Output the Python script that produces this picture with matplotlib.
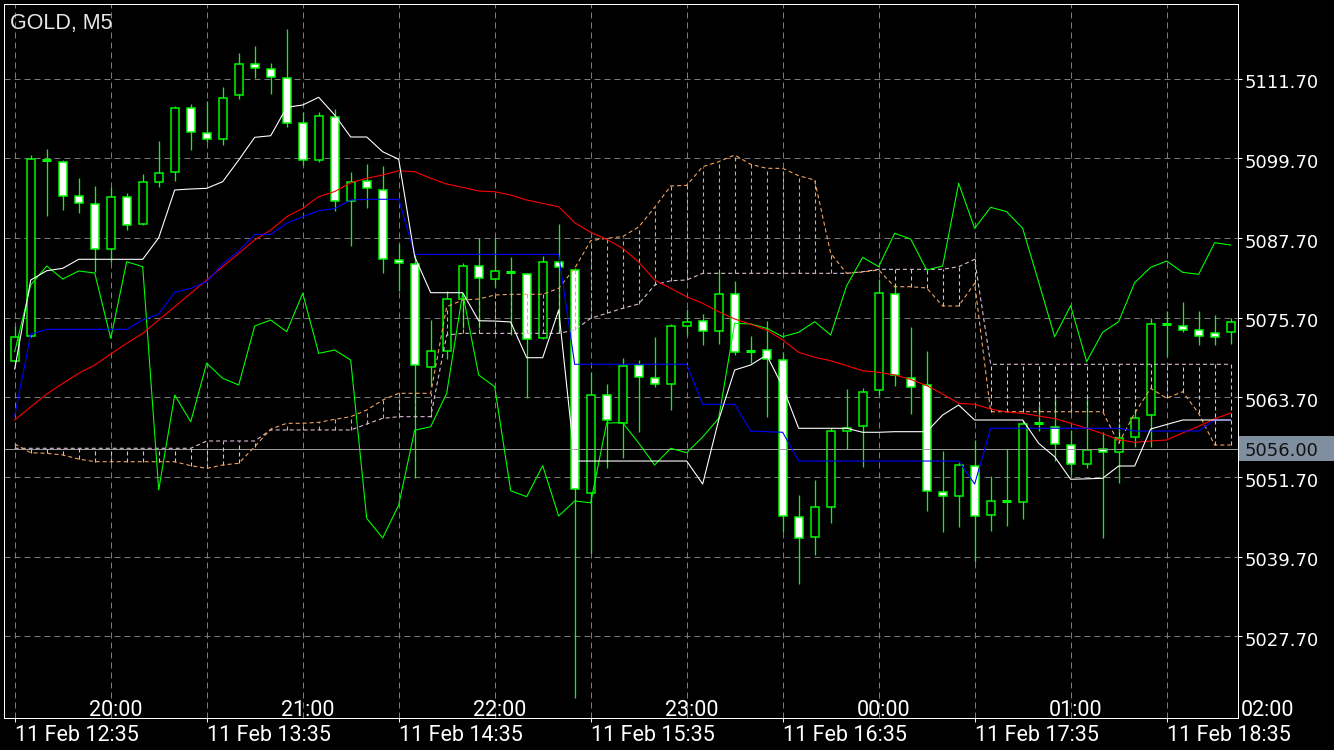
import numpy as np
import matplotlib
matplotlib.use("Agg")
import matplotlib.pyplot as plt
from matplotlib.patches import Rectangle
from matplotlib.transforms import blended_transform_factory, offset_copy

plt.rcParams['lines.scale_dashes'] = False

# ---------------- data ----------------
title = "GOLD, M5"
bid_price = 5056.00

opens = [5069.18, 5073.00, 5099.41, 5099.11, 5093.99, 5092.83, 5086.01, 5093.84, 5089.77, 5096.20,
         5097.61, 5107.24, 5103.48, 5102.57, 5109.20, 5113.87, 5113.11, 5111.76, 5104.98, 5099.41,
         5105.98, 5093.23, 5096.25, 5094.89, 5084.35, 5083.75, 5068.28, 5070.65, 5078.57, 5083.45,
         5081.49, 5082.54, 5082.24, 5072.60, 5084.05, 5082.84, 5049.38, 5064.06, 5059.92, 5068.54,
         5066.58, 5065.67, 5074.41, 5075.25, 5073.66, 5079.27, 5070.73, 5070.79, 5069.33, 5045.65,
         5042.63, 5047.24, 5058.69, 5059.35, 5064.77, 5079.23, 5066.70, 5065.52, 5049.41, 5048.81,
         5053.42, 5046.04, 5048.05, 5047.90, 5059.80, 5059.29, 5056.58, 5053.67, 5055.98, 5055.48,
         5057.78, 5061.04, 5074.77, 5074.49, 5073.84, 5073.33, 5073.48]
highs = [5074.46, 5100.21, 5101.11, 5099.41, 5096.79, 5095.58, 5095.43, 5094.49, 5097.39, 5102.32,
         5107.59, 5107.84, 5108.34, 5110.40, 5115.61, 5116.67, 5114.11, 5119.18, 5106.64, 5106.64,
         5107.14, 5097.65, 5098.85, 5098.60, 5086.85, 5085.15, 5075.36, 5079.73, 5083.99, 5087.66,
         5087.71, 5084.89, 5082.50, 5084.95, 5089.81, 5083.20, 5067.57, 5065.72, 5069.68, 5069.33,
         5072.80, 5074.76, 5077.02, 5076.26, 5082.54, 5081.23, 5072.95, 5075.21, 5070.58, 5049.00,
         5051.26, 5059.10, 5064.97, 5065.12, 5081.49, 5080.78, 5074.26, 5070.69, 5055.68, 5054.02,
         5057.29, 5051.82, 5055.93, 5060.30, 5062.56, 5063.72, 5058.79, 5063.81, 5058.54, 5059.80,
         5061.80, 5075.63, 5076.71, 5078.14, 5076.71, 5076.13, 5075.63]
lows = [5069.00, 5072.80, 5091.07, 5091.92, 5091.43, 5082.59, 5084.09, 5088.91, 5089.60, 5095.43,
        5096.30, 5101.00, 5102.20, 5101.71, 5108.60, 5111.85, 5109.44, 5104.47, 5098.66, 5099.20,
        5091.82, 5086.55, 5092.27, 5082.48, 5079.77, 5051.52, 5065.46, 5069.50, 5074.11, 5074.10,
        5080.37, 5073.10, 5063.56, 5072.50, 5073.40, 5018.39, 5040.22, 5053.02, 5054.65, 5058.54,
        5065.31, 5061.80, 5073.10, 5071.55, 5071.74, 5070.10, 5068.84, 5060.79, 5043.48, 5035.55,
        5040.01, 5044.74, 5055.89, 5053.27, 5064.06, 5065.46, 5061.16, 5046.64, 5043.39, 5044.14,
        5038.87, 5043.63, 5044.38, 5045.34, 5058.69, 5054.17, 5052.02, 5053.02, 5042.48, 5050.76,
        5056.28, 5056.23, 5069.88, 5073.48, 5071.53, 5071.53, 5071.82]
closes = [5072.80, 5099.56, 5099.41, 5093.99, 5092.93, 5086.01, 5093.84, 5089.62, 5096.10, 5097.46,
          5107.24, 5103.63, 5102.57, 5108.75, 5113.87, 5113.26, 5111.91, 5105.03, 5099.41, 5106.04,
          5093.23, 5096.19, 5095.19, 5084.50, 5083.90, 5068.54, 5070.65, 5078.48, 5083.45, 5081.64,
          5082.69, 5082.54, 5072.50, 5084.05, 5083.34, 5049.86, 5064.03, 5060.25, 5068.48, 5066.73,
          5065.67, 5074.41, 5075.10, 5073.70, 5079.27, 5070.49, 5070.73, 5069.49, 5045.84, 5042.48,
          5047.24, 5058.69, 5059.14, 5064.47, 5079.47, 5067.03, 5065.22, 5049.60, 5048.81, 5053.48,
          5045.84, 5048.05, 5048.05, 5059.65, 5059.80, 5056.68, 5053.63, 5055.83, 5055.48, 5057.63,
          5060.64, 5074.77, 5074.77, 5073.91, 5072.90, 5072.83, 5075.00]

line_white = [5067.98, 5081.38, 5082.78, 5083.14, 5084.50, 5084.50, 5084.50, 5084.50, 5084.50, 5087.75,
              5094.94, 5095.09, 5095.19, 5096.19, 5099.45, 5102.87, 5103.11, 5107.39, 5107.74, 5108.90,
              5106.23, 5102.92, 5102.92, 5100.70, 5099.56, 5084.89, 5079.47, 5079.47, 5079.47, 5075.25,
              5075.20, 5075.06, 5069.68, 5069.68, 5076.87, 5054.12, 5054.12, 5054.12, 5054.12, 5054.12,
              5054.12, 5054.12, 5054.12, 5050.66, 5060.30, 5067.83, 5068.58, 5070.09, 5065.31, 5059.05,
              5059.05, 5059.05, 5059.05, 5058.45, 5058.45, 5058.54, 5058.54, 5058.54, 5061.05, 5062.56,
              5060.30, 5060.30, 5060.30, 5060.30, 5056.79, 5054.77, 5051.37, 5051.44, 5051.52, 5053.37,
              5053.37, 5058.94, 5059.62, 5060.30, 5060.30, 5060.30, 5060.30]
line_red = [5060.30, 5062.26, 5064.21, 5065.80, 5067.33, 5068.58, 5070.24, 5071.85, 5073.35, 5075.36,
            5077.36, 5079.38, 5081.38, 5083.39, 5085.40, 5087.41, 5088.91, 5090.92, 5092.18, 5093.93,
            5094.71, 5096.04, 5096.70, 5097.20, 5097.84, 5097.69, 5096.70, 5095.84, 5095.34, 5094.79,
            5094.68, 5094.18, 5093.43, 5092.93, 5092.42, 5090.01, 5088.57, 5087.51, 5086.16, 5084.09,
            5081.38, 5080.13, 5078.87, 5077.87, 5076.61, 5075.51, 5074.71, 5073.85, 5072.35, 5070.49,
            5069.74, 5069.23, 5068.48, 5067.72, 5067.48, 5067.08, 5066.40, 5065.49, 5064.21, 5062.81,
            5062.66, 5061.95, 5061.50, 5061.31, 5060.90, 5060.52, 5059.80, 5059.05, 5058.25, 5057.33,
            5056.94, 5057.14, 5057.29, 5058.34, 5059.35, 5060.48, 5061.35]
line_blue = [5060.90, 5073.20, 5073.96, 5073.96, 5073.96, 5073.96, 5073.96, 5073.96, 5075.36, 5076.26,
             5079.53, 5080.13, 5081.13, 5083.79, 5085.75, 5088.26, 5088.26, 5089.92, 5090.92, 5091.82,
             5092.15, 5093.43, 5093.54, 5093.54, 5093.54, 5085.25, 5085.25, 5085.25, 5085.25, 5085.25,
             5085.25, 5085.25, 5085.25, 5085.25, 5085.25, 5068.69, 5068.69, 5068.69, 5068.69, 5068.69,
             5068.69, 5068.69, 5068.69, 5062.66, 5062.66, 5062.66, 5058.64, 5058.54, 5058.45, 5054.12,
             5054.12, 5054.12, 5054.12, 5054.12, 5054.12, 5054.12, 5054.12, 5054.12, 5054.12, 5054.12,
             5050.66, 5059.05, 5059.05, 5059.05, 5059.05, 5059.05, 5059.05, 5059.05, 5059.05, 5059.05,
             5058.64, 5058.64, 5058.64, 5058.64, 5058.64, 5060.30, 5060.30]
line_green = [5070.58, 5080.63, 5083.49, 5081.53, 5082.74, 5082.44, 5072.60, 5084.14, 5083.39, 5049.76,
              5064.06, 5060.04, 5068.84, 5066.58, 5065.57, 5074.45, 5075.36, 5073.60, 5079.38, 5070.34,
              5070.84, 5069.33, 5045.49, 5042.53, 5047.50, 5058.75, 5059.29, 5064.32, 5079.38, 5067.08,
              5065.31, 5049.65, 5048.75, 5053.42, 5045.84, 5048.10, 5047.84, 5059.85, 5059.89, 5056.83,
              5053.52, 5056.04, 5055.37, 5057.74, 5060.55, 5074.86, 5074.76, 5074.11, 5072.85, 5073.51,
              5075.11, 5073.10, 5080.52, 5084.80, 5083.39, 5088.41, 5087.56, 5082.89, 5083.49, 5095.95,
              5089.17, 5092.33, 5091.67, 5089.17, 5081.08, 5072.84, 5077.51, 5069.08, 5073.51, 5075.11,
              5080.98, 5083.29, 5084.24, 5082.54, 5082.24, 5087.00, 5086.65]
span_a = [5056.68, 5055.37, 5055.28, 5055.03, 5054.42, 5054.02, 5054.02, 5054.02, 5054.02, 5054.02,
          5054.02, 5053.42, 5053.02, 5053.52, 5053.78, 5056.28, 5058.94, 5059.80, 5059.80, 5059.95,
          5060.40, 5060.80, 5061.80, 5063.31, 5064.32, 5064.32, 5064.32, 5077.36, 5078.37, 5078.52,
          5079.12, 5079.23, 5079.23, 5079.23, 5080.13, 5083.14, 5087.30, 5087.66, 5087.93, 5089.37,
          5092.33, 5095.54, 5095.64, 5098.45, 5099.20, 5100.21, 5098.81, 5098.20, 5098.20, 5097.09,
          5096.44, 5085.40, 5082.39, 5082.59, 5082.89, 5080.37, 5080.37, 5080.18, 5077.47, 5077.47,
          5080.89, 5061.55, 5061.55, 5061.55, 5061.55, 5061.55, 5061.55, 5061.55, 5061.55, 5056.79,
          5061.31, 5065.07, 5063.57, 5064.56, 5061.31, 5056.53, 5056.53]
span_b = [5056.04, 5056.04, 5056.04, 5056.04, 5056.04, 5056.04, 5056.04, 5056.04, 5056.04, 5056.04,
          5056.04, 5056.04, 5057.14, 5057.14, 5057.14, 5057.14, 5058.80, 5058.80, 5058.80, 5058.80,
          5058.80, 5058.80, 5059.69, 5060.55, 5060.80, 5060.80, 5060.80, 5073.10, 5073.35, 5073.35,
          5073.35, 5073.35, 5073.35, 5073.35, 5073.35, 5073.85, 5075.62, 5076.37, 5077.12, 5077.77,
          5080.63, 5081.28, 5081.38, 5082.39, 5082.39, 5082.39, 5082.39, 5082.39, 5082.39, 5082.39,
          5082.39, 5082.39, 5082.39, 5082.63, 5082.99, 5082.99, 5082.99, 5082.99, 5082.99, 5083.39,
          5084.50, 5068.69, 5068.69, 5068.69, 5068.69, 5068.69, 5068.69, 5068.69, 5068.69, 5068.69,
          5068.69, 5068.69, 5068.69, 5068.69, 5068.69, 5068.69, 5068.69]

price_levels = [5111.70, 5099.70, 5087.70, 5075.70, 5063.70, 5051.70, 5039.70, 5027.70]
hour_labels = ["20:00", "21:00", "22:00", "23:00", "00:00", "01:00", "02:00"]
hour_bars = [6, 18, 30, 42, 54, 66, 78]
date_labels = ["11 Feb 12:35", "11 Feb 13:35", "11 Feb 14:35", "11 Feb 15:35",
               "11 Feb 16:35", "11 Feb 17:35", "11 Feb 18:35"]
date_bars = [0, 12, 24, 36, 48, 60, 72]

# ---------------- style ----------------
BG = "black"
LIME = "#00ff00"
GRID = "#7a7a7a"
SANDY = "#f4a460"
THISTLE = "#d8bfd8"
PX = 0.72  # points per pixel at dpi 100

W, H = 1334, 750
fig = plt.figure(figsize=(W / 100, H / 100), dpi=100, facecolor=BG)
ax = fig.add_axes([4 / W, 32 / H, 1234 / W, 714 / H], facecolor=BG)

n = len(opens)
x = np.arange(n)
ax.set_xlim(-0.67, 76.46)
ax.set_ylim(5015.42, 5122.95)

# grid
for lv in price_levels:
    ax.axhline(lv, color=GRID, lw=1 * PX, dashes=(6 * PX, 4 * PX), zorder=0.5)
for b in range(0, n, 6):
    ax.axvline(b, color=GRID, lw=1 * PX, dashes=(6 * PX, 4 * PX), zorder=0.5)

# candles
o = np.array(opens); c = np.array(closes); h = np.array(highs); l = np.array(lows)
ax.vlines(x, l, h, color=LIME, lw=1.3 * PX, zorder=2)
bw = 0.5
for i in range(n):
    if abs(c[i] - o[i]) < 1e-9:
        ax.hlines(o[i], i - bw / 2 - 0.03, i + bw / 2 + 0.03, color=LIME, lw=3 * PX, zorder=2.2)
        continue
    fc = "white" if c[i] < o[i] else "black"
    ax.add_patch(Rectangle((i - bw / 2, min(o[i], c[i])), bw, abs(c[i] - o[i]),
                           facecolor=fc, edgecolor=LIME, lw=1.5 * PX, zorder=2.1))

# bid line
ax.axhline(bid_price, color="#9a9a9a", lw=1 * PX, zorder=2.5)

# ichimoku cloud
sa = np.array(span_a); sb = np.array(span_b)
up = sa > sb
dn = sa < sb
cloud_dash = (0, (4 * PX, 3 * PX))
ax.vlines(x[up], sb[up], sa[up], colors=SANDY, lw=1.1 * PX, linestyles=[cloud_dash], zorder=3)
ax.vlines(x[dn], sa[dn], sb[dn], colors=THISTLE, lw=1.1 * PX, linestyles=[cloud_dash], zorder=3)
ax.plot(x, sb, color=THISTLE, lw=1.1 * PX, dashes=(4 * PX, 3 * PX), zorder=3.1)
ax.plot(x, sa, color=SANDY, lw=1.1 * PX, dashes=(4 * PX, 3 * PX), zorder=3.2)

# indicator lines
ax.plot(x, line_green, color=LIME, lw=1.1 * PX, zorder=4)
ax.plot(x, line_red, color="#ff0000", lw=1.1 * PX, zorder=4.1)
ax.plot(x, line_blue, color="#0000ff", lw=1.1 * PX, zorder=4.2)
ax.plot(x, line_white, color="white", lw=1.1 * PX, zorder=4.3)

# frame and ticks
for sp in ax.spines.values():
    sp.set_color("white")
    sp.set_linewidth(1 * PX)
ax.yaxis.set_ticks_position("right")
ax.set_yticks(price_levels)
ax.set_yticklabels([])
ax.set_xticks(date_bars)
ax.set_xticklabels([])
ax.tick_params(axis="both", direction="out", color="white", width=1 * PX, length=4 * PX)

yblend = blended_transform_factory(ax.transAxes, ax.transData)
for lv in price_levels:
    tr = offset_copy(yblend, fig=fig, x=7, y=-9.5, units="dots")
    ax.text(1.0, lv, f"{lv:.2f}", transform=tr, ha="left", va="baseline",
            color="white", fontsize=13, family="DejaVu Sans", clip_on=False)

xblend = blended_transform_factory(ax.transData, ax.transAxes)
for b, lab in zip(hour_bars, hour_labels):
    tr = offset_copy(xblend, fig=fig, x=5, y=2, units="dots")
    ax.text(b, 0.0, lab, transform=tr, ha="center", va="baseline",
            color="white", fontsize=15.5, family="Roboto", clip_on=False)
for b, lab in zip(date_bars, date_labels):
    tr = offset_copy(xblend, fig=fig, x=0, y=-23, units="dots")
    ax.text(b, 0.0, lab, transform=tr, ha="left", va="baseline",
            color="white", fontsize=15.5, family="Roboto", clip_on=False)

# current price label box
ybid = ax.transData.transform((0, bid_price))[1]
box = Rectangle((1239 / W, (ybid - 12.5) / H), 95 / W, 25 / H,
                transform=fig.transFigure, facecolor="#7f8fa0",
                edgecolor="none", zorder=10, clip_on=False)
ax.add_artist(box)
tr = offset_copy(yblend, fig=fig, x=7, y=-7, units="dots")
ax.text(1.0, bid_price, f"{bid_price:.2f}", transform=tr, ha="left", va="baseline",
        color="#111111", fontsize=13, family="DejaVu Sans", clip_on=False, zorder=11)

fig.text(10 / W, 1 - 29 / H, title, ha="left", va="baseline", color="#e6e6e6",
         fontsize=15.5, family="Liberation Sans")

fig.savefig("out.png", dpi=100, facecolor=BG)
